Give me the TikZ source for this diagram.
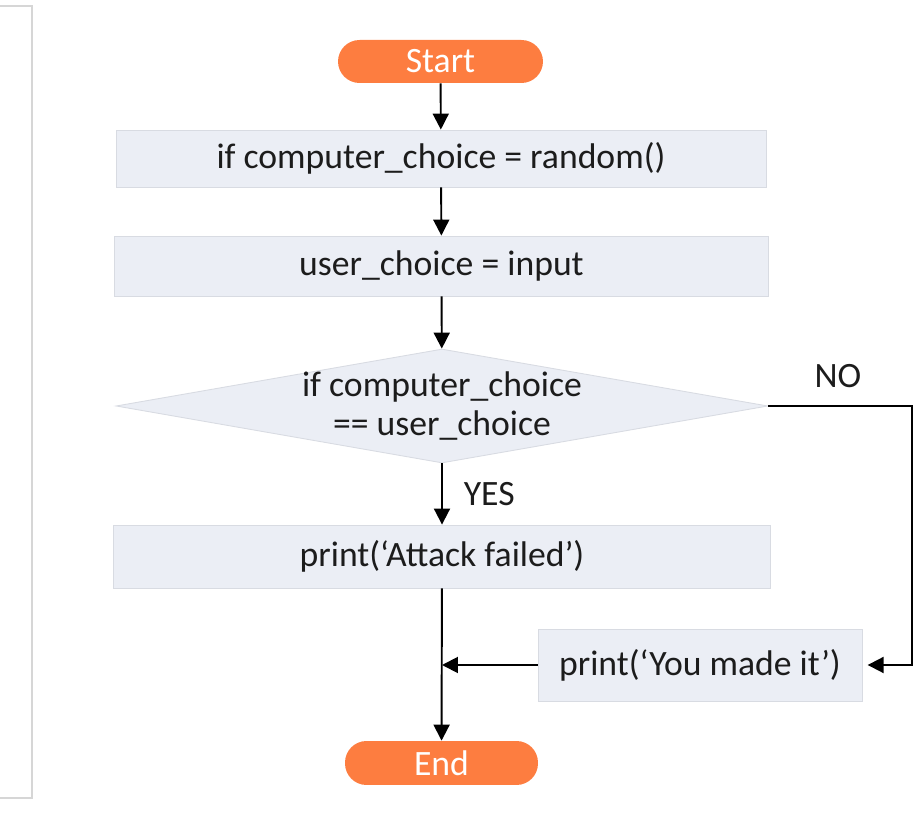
\documentclass[tikz,border=0pt]{standalone}
\usepackage{fontspec}
\setmainfont{Carlito}
\usetikzlibrary{shapes.geometric,arrows.meta}
\definecolor{boxfill}{HTML}{EBEEF5}
\definecolor{boxline}{HTML}{D8DBE2}
\definecolor{termfill}{HTML}{FD7D40}
\definecolor{txt}{HTML}{1C1C1C}
\definecolor{framegray}{HTML}{D6D6D6}
\begin{document}
\begin{tikzpicture}[x=0.02cm,y=-0.02cm,
  every node/.style={font=\fontsize{20.3}{22.6}\selectfont,text=txt},
  process/.style={rectangle,fill=boxfill,draw=boxline,line width=0.5pt,inner sep=0pt},
  terminal/.style={rectangle,rounded corners=0.43cm,fill=termfill,text=white,inner sep=0pt},
  decision/.style={diamond,fill=boxfill,draw=boxline,line width=0.5pt,inner sep=0pt},
  flow/.style={line width=1.1pt,-{Triangle[length=0.32cm,width=0.32cm]}}]
\useasboundingbox (0,0) rectangle (914,827);
\draw[framegray,line width=0.8pt] (0,6) -- (32,6) -- (32,798) -- (0,798);

\node [terminal,minimum width=4.1cm,minimum height=0.86cm] (start) at (440.5,61.5) {Start};
\node [process,minimum width=13cm,minimum height=1.14cm] (random) at (441,158.5) {if computer\_choice = random()};
\node [process,minimum width=13.1cm,minimum height=1.2cm] (input) at (441.5,266) {user\_choice = input};
\node [decision,minimum width=13.04cm,minimum height=2.28cm,
  label={[align=center]center:if computer\_choice\\== user\_choice}] (check) at (442,406) {};
\node [process,minimum width=13.16cm,minimum height=1.26cm] (failed) at (442,556.5) {print(‘Attack failed’)};
\node [process,minimum width=6.48cm,minimum height=1.44cm] (made) at (700,665) {print(‘You made it’)};
\node [terminal,minimum width=3.86cm,minimum height=0.88cm] (end) at (441.5,763) {End};

\coordinate (noturn) at (912,406);
\coordinate (join) at (failed.south |- made.west);

\draw [flow] (start) -- (random);
\draw [flow] (random) -- (input);
\draw [flow] (input) -- (check);
\draw [flow] (check) -- node [right=0.3cm] (yes) {YES} (failed);
\draw [flow] (failed) -- (end);
\draw [flow] (check.east) -- (noturn) |- ([xshift=3pt]made.east);
\draw [flow] (made) -- (join);
\node (no) at (838,376) {NO};
\end{tikzpicture}
\end{document}
